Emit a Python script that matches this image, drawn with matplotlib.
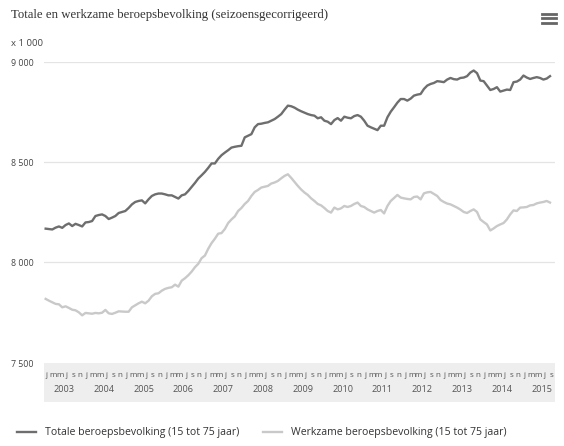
import matplotlib
matplotlib.use("Agg")
import matplotlib.pyplot as plt
from matplotlib.lines import Line2D
from matplotlib.patches import Rectangle
from matplotlib.transforms import blended_transform_factory
import numpy as np

title = "Totale en werkzame beroepsbevolking (seizoensgecorrigeerd)"
unit_label = "x 1 000"
series_names = ["Totale beroepsbevolking (15 tot 75 jaar)",
                "Werkzame beroepsbevolking (15 tot 75 jaar)"]
years = list(range(2003, 2016))
month_letters = ["j", "m", "m", "j", "s", "n"]   # jan, mrt, mei, jul, sep, nov
yticks = [7500, 8000, 8500, 9000]
ytick_labels = ["7 500", "8 000", "8 500", "9 000"]

# monthly values, Jan 2003 .. Sep 2015 (x 1 000)
totale = [
    8167, 8165, 8163, 8172, 8178, 8171, 8185, 8193, 8180, 8191, 8185, 8178,  # 2003
    8198, 8200, 8205, 8230, 8235, 8238, 8230, 8215, 8222, 8230, 8245, 8250,  # 2004
    8255, 8270, 8288, 8300, 8305, 8308, 8293, 8313, 8330, 8338, 8342, 8342,  # 2005
    8338, 8333, 8333, 8325, 8317, 8333, 8338, 8355, 8375, 8395, 8417, 8433,  # 2006
    8450, 8470, 8492, 8492, 8515, 8533, 8546, 8558, 8571, 8575, 8578, 8580,  # 2007
    8622, 8630, 8638, 8672, 8688, 8690, 8694, 8697, 8705, 8713, 8725, 8738,  # 2008
    8760, 8780, 8777, 8770, 8760, 8752, 8745, 8738, 8733, 8730, 8717, 8722,  # 2009
    8705, 8700, 8688, 8708, 8718, 8705, 8725, 8720, 8717, 8728, 8733, 8725,  # 2010
    8705, 8680, 8672, 8665, 8658, 8680, 8680, 8722, 8750, 8772, 8795, 8813,  # 2011
    8813, 8805, 8815, 8830, 8835, 8838, 8863, 8880, 8888, 8893, 8902, 8900,  # 2012
    8897, 8910, 8918, 8912, 8910, 8918, 8920, 8927, 8945, 8955, 8942, 8905,  # 2013
    8902, 8880, 8858, 8863, 8872, 8850, 8855, 8860, 8858, 8897, 8900, 8910,  # 2014
    8930, 8920, 8913, 8918, 8922, 8918, 8910, 8915, 8927,                    # 2015
]
werkzame = [
    7817, 7808, 7800, 7792, 7790, 7775, 7780, 7772, 7763, 7760, 7750, 7735,  # 2003
    7747, 7745, 7743, 7747, 7745, 7748, 7762, 7745, 7742, 7748, 7755, 7754,  # 2004
    7753, 7753, 7775, 7785, 7795, 7803, 7795, 7808, 7830, 7842, 7845, 7858,  # 2005
    7867, 7872, 7875, 7888, 7878, 7908, 7920, 7935, 7953, 7975, 7992, 8020,  # 2006
    8033, 8067, 8095, 8117, 8142, 8145, 8165, 8195, 8213, 8228, 8255, 8270,  # 2007
    8290, 8305, 8330, 8350, 8360, 8372, 8376, 8380, 8392, 8397, 8405, 8418,  # 2008
    8430, 8438, 8420, 8400, 8380, 8362, 8347, 8335, 8318, 8305, 8290, 8283,  # 2009
    8270, 8255, 8247, 8272, 8263, 8268, 8280, 8275, 8280, 8290, 8297, 8280,  # 2010
    8275, 8263, 8255, 8247, 8255, 8260, 8243, 8280, 8305, 8320, 8335, 8322,  # 2011
    8318, 8315, 8313, 8325, 8327, 8313, 8343, 8348, 8350, 8340, 8330, 8310,  # 2012
    8300, 8292, 8288, 8280, 8272, 8262, 8250, 8245, 8255, 8263, 8250, 8213,  # 2013
    8200, 8188, 8158, 8168, 8180, 8188, 8195, 8213, 8238, 8258, 8255, 8272,  # 2014
    8273, 8275, 8283, 8285, 8293, 8297, 8300, 8305, 8297,                    # 2015
]

W, H = 564, 446
fig = plt.figure(figsize=(W / 100, H / 100), dpi=100)
fig.patch.set_facecolor("white")

def fx(px):
    return px / W

def fy(py):
    return 1 - py / H

ax = fig.add_axes([fx(44), fy(362.5), fx(555) - fx(44), fy(61.5) - fy(362.5)])
ax.set_facecolor("white")

x = np.arange(len(totale))
c_tot = "#6e6e6e"
c_wrk = "#c9c9c9"
ax.plot(x, werkzame, color=c_wrk, lw=1.7, solid_joinstyle="round", zorder=3)
ax.plot(x, totale, color=c_tot, lw=1.7, solid_joinstyle="round", zorder=4)

ax.set_xlim(-0.5, len(totale) + 0.5)
ax.set_ylim(7500, 9000)
for sp in ax.spines.values():
    sp.set_visible(False)
ax.set_xticks([])
ax.set_yticks(yticks)
ax.set_yticklabels([])
ax.tick_params(left=False)
for v in yticks[1:]:
    ax.axhline(v, color="#e4e4e4", lw=0.9, zorder=1)

# y tick labels
ytrans = blended_transform_factory(fig.transFigure, ax.transData)
for v, lab in zip(yticks, ytick_labels):
    fig.text(fx(11), v - 8, lab, transform=ytrans, fontsize=6.3, color="#444444",
             ha="left", va="center", family="Open Sans")

# band behind x labels
fig.patches.append(Rectangle((fx(44), fy(402)), fx(555) - fx(44), fy(363) - fy(402),
                             transform=fig.transFigure, facecolor="#eeeeee",
                             edgecolor="none", zorder=0))

xtrans = blended_transform_factory(ax.transData, fig.transFigure)
n = len(totale)
for i in range(0, n, 2):
    fig.text(i + 0.3, fy(375.5), month_letters[(i % 12) // 2], transform=xtrans,
             fontsize=5.8, color="#555555", ha="center", va="center", family="Open Sans")
for k, yr in enumerate(years):
    fig.text(k * 12 + 5.5, fy(389.5), str(yr), transform=xtrans,
             fontsize=6.6, color="#555555", ha="center", va="center", family="Open Sans")

# title, unit, menu icon
fig.text(fx(11), fy(15), title, fontsize=9.2, color="#333333", ha="left", va="center",
         family="Liberation Serif")
fig.text(fx(11), fy(44), unit_label, fontsize=6.8, color="#444444", ha="left", va="center",
         family="Open Sans")
for yy in (13.5, 18, 22.5):
    fig.lines.append(Line2D([fx(542), fx(556)], [fy(yy), fy(yy)], transform=fig.transFigure,
                            color="#666666", lw=2.0))

# legend
for (x0, x1, c, tx, name) in [(17, 36, c_tot, 45, series_names[0]),
                              (263, 282, c_wrk, 291, series_names[1])]:
    fig.lines.append(Line2D([fx(x0), fx(x1)], [fy(432), fy(432)], transform=fig.transFigure,
                            color=c, lw=1.7))
    fig.text(fx(tx), fy(432.5), name, fontsize=7.6, color="#333333", ha="left", va="center",
             family="Open Sans")

fig.savefig("out.png", dpi=100, facecolor="white")
